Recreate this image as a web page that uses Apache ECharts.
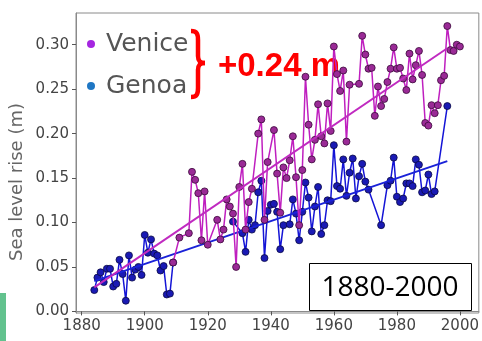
<!DOCTYPE html>
<html lang="en">
<head>
    <meta charset="UTF-8">
    <title>Sea level rise Venice / Genoa</title>
    <script src="https://cdn.jsdelivr.net/npm/echarts@6/dist/echarts.min.js"></script>
    <style>
        html, body { margin: 0; padding: 0; background: #fff; }
    </style>
</head>
<body>
    <div id="chart-container" style="width: 482px; height: 341px;"></div>
    <script>
    // 数据：年份 / 海平面上升 (m)
    var veniceYears = [1909, 1911, 1914, 1915, 1916, 1917, 1918, 1919, 1920, 1923, 1924, 1925, 1926, 1927, 1928, 1929,
        1930, 1931, 1932, 1933, 1934, 1936, 1937, 1938, 1939, 1941, 1942, 1943, 1944, 1945, 1946, 1947, 1948, 1949,
        1950, 1951, 1952, 1953, 1954, 1955, 1956, 1957, 1958, 1959, 1960, 1961, 1962, 1963, 1964, 1965, 1968, 1969,
        1970, 1971, 1972, 1973, 1974, 1975, 1976, 1977, 1978, 1979, 1980, 1981, 1982, 1983, 1984, 1985, 1986, 1987,
        1988, 1989, 1990, 1991, 1992, 1993, 1994, 1995, 1996, 1997, 1998, 1999, 2000];
    var veniceValues = [0.055, 0.083, 0.088, 0.157, 0.148, 0.133, 0.080, 0.135, 0.075, 0.103, 0.081, 0.092, 0.126, 0.118, 0.110, 0.050,
        0.140, 0.166, 0.092, 0.123, 0.138, 0.200, 0.216, 0.103, 0.168, 0.204, 0.155, 0.111, 0.162, 0.150, 0.170, 0.197, 0.151, 0.097,
        0.159, 0.264, 0.210, 0.171, 0.193, 0.233, 0.197, 0.189, 0.234, 0.203, 0.298, 0.267, 0.248, 0.271, 0.191, 0.255, 0.256, 0.310,
        0.289, 0.273, 0.274, 0.220, 0.253, 0.231, 0.239, 0.258, 0.273, 0.297, 0.273, 0.274, 0.262, 0.249, 0.290, 0.261, 0.277, 0.293,
        0.266, 0.212, 0.209, 0.232, 0.223, 0.232, 0.260, 0.265, 0.321, 0.294, 0.293, 0.300, 0.298];

    // '-' = 缺测（断开折线）
    var genoaYears = [1884, 1885, 1886, 1887, 1888, 1889, 1890, 1891, 1892, 1893, 1894, 1895, 1896, 1897, 1898, 1899,
        1900, 1901, 1902, 1903, 1904, 1905, 1906, 1907, 1908, 1909, 1918, 1928, 1931, 1932, 1933, 1934, 1935, 1936, 1937,
        1938, 1939, 1940, 1941, 1942, 1943, 1944, 1946, 1947, 1948, 1949, 1950, 1951, 1952, 1953, 1954, 1955, 1956,
        1957, 1958, 1959, 1960, 1961, 1962, 1963, 1964, 1965, 1966, 1967, 1968, 1969, 1970, 1971, 1975, 1977, 1978,
        1979, 1980, 1981, 1982, 1983, 1984, 1985, 1986, 1987, 1988, 1989, 1990, 1991, 1992, 1996];
    var genoaValues = [0.024, 0.038, 0.044, 0.033, 0.048, 0.048, 0.028, 0.031, 0.058, 0.042, 0.012, 0.063, 0.038, 0.047, 0.050, 0.041,
        0.086, 0.066, 0.081, 0.065, 0.063, 0.046, 0.051, 0.019, 0.020, 0.055, '-', 0.101, 0.088, 0.067, 0.103, 0.092, 0.097, 0.134, 0.147,
        0.060, 0.113, 0.120, 0.121, 0.112, 0.070, 0.097, 0.098, 0.126, 0.110, 0.080, 0.112, 0.145, 0.128, 0.090, 0.118, 0.140, 0.087,
        0.097, 0.125, 0.124, 0.187, 0.141, 0.138, 0.171, 0.130, 0.156, 0.172, 0.127, 0.152, 0.166, 0.146, 0.137, 0.097, 0.142, 0.147,
        0.173, 0.129, 0.123, 0.127, 0.144, 0.144, 0.141, 0.171, 0.165, 0.134, 0.136, 0.154, 0.132, 0.135, 0.231];

    // 趋势线端点
    var trendYears = [1884, 1996];
    var veniceTrend = [0.027, 0.296];
    var genoaTrend = [0.034, 0.169];

    var xTicks = [1880, 1900, 1920, 1940, 1960, 1980, 2000];
    var yTicks = [0, 0.05, 0.10, 0.15, 0.20, 0.25, 0.30];

    function pairs(xs, ys) {
        return xs.map(function (x, i) { return [x, ys[i]]; });
    }

    var chart = echarts.init(document.getElementById('chart-container'));
    var tickFont = 'DejaVu Sans';

    // 红色大括号
    var braceStyle = { fill: 'none', stroke: '#ff0000', lineWidth: 4.5 };
    function curve(x1, y1, cx1, cy1, cx2, cy2, x2, y2) {
        return {
            type: 'bezierCurve',
            shape: { x1: x1, y1: y1, cpx1: cx1, cpy1: cy1, cpx2: cx2, cpy2: cy2, x2: x2, y2: y2 },
            style: braceStyle
        };
    }
    function seg(x1, y1, x2, y2) {
        return { type: 'line', shape: { x1: x1, y1: y1, x2: x2, y2: y2 }, style: braceStyle };
    }
    var brace = {
        type: 'group',
        children: [
            curve(191, 31, 197, 31, 198, 34, 198, 40),
            seg(198, 40, 198, 56),
            curve(198, 56, 198, 61, 200, 63, 205, 63),
            curve(205, 63, 200, 63, 198, 65, 198, 70),
            seg(198, 70, 198, 88),
            curve(198, 88, 198, 94, 197, 97, 191, 97)
        ]
    };

    var option = {
        animation: false,
        grid: {
            left: 76, right: 3, top: 13, bottom: 28,
            show: true, borderColor: '#8a8a8a', borderWidth: 1
        },
        legend: {
            orient: 'vertical',
            left: 82,
            top: 24,
            itemGap: 12,
            itemWidth: 8,
            itemHeight: 8,
            icon: 'circle',
            textStyle: {
                fontFamily: tickFont,
                fontSize: 25,
                color: '#555',
                lineHeight: 30,
                padding: [0, 0, 0, 6]
            },
            data: [
                { name: 'Venice', itemStyle: { color: '#a526e0', borderWidth: 0 } },
                { name: 'Genoa', itemStyle: { color: '#1f77c4', borderWidth: 0 } }
            ]
        },
        xAxis: {
            type: 'value',
            min: 1878.2,
            max: 2006,
            axisLine: { lineStyle: { color: '#8a8a8a' } },
            axisTick: { customValues: xTicks, length: 4, lineStyle: { color: '#555' } },
            axisLabel: {
                customValues: xTicks,
                fontFamily: tickFont, fontSize: 15, color: '#444', margin: 6,
                formatter: function (v) { return String(v); }
            },
            splitLine: { show: false }
        },
        yAxis: {
            type: 'value',
            min: -0.0018,
            max: 0.3357,
            axisLine: { show: true, lineStyle: { color: '#8a8a8a' } },
            axisTick: { show: true, customValues: yTicks, length: 4, lineStyle: { color: '#555' } },
            axisLabel: {
                customValues: yTicks,
                fontFamily: tickFont, fontSize: 15, color: '#444', margin: 7,
                formatter: function (v) { return v.toFixed(2); }
            },
            splitLine: { show: false }
        },
        graphic: [
            {
                type: 'text', x: 17, y: 182, rotation: Math.PI / 2,
                style: {
                    text: 'Sea level rise (m)', fontFamily: tickFont, fontSize: 18, fill: '#666',
                    textAlign: 'center', textVerticalAlign: 'middle'
                }
            },
            brace,
            {
                type: 'text', x: 218, y: 67,
                style: {
                    text: '+0.24 m', fontFamily: 'Liberation Sans', fontWeight: 'bold', fontSize: 33,
                    fill: '#ff0000', textVerticalAlign: 'middle'
                }
            },
            {
                type: 'rect', z: 10,
                shape: { x: 309.5, y: 263.5, width: 162, height: 47 },
                style: { fill: '#fff', stroke: '#000', lineWidth: 1 }
            },
            {
                type: 'text', z: 11, x: 390, y: 288,
                style: {
                    text: '1880-2000', fontFamily: 'Open Sans', fontSize: 28, fill: '#000',
                    textAlign: 'center', textVerticalAlign: 'middle'
                }
            },
            {
                type: 'rect',
                shape: { x: 0, y: 293, width: 6, height: 48 },
                style: { fill: '#62c28e' }
            }
        ],
        series: [
            {
                name: 'Genoa',
                type: 'line',
                z: 2,
                data: pairs(genoaYears, genoaValues),
                symbol: 'circle',
                symbolSize: 7,
                lineStyle: { color: '#1414d6', width: 1.5 },
                itemStyle: { color: '#1a1ab4', borderColor: '#0a0a44', borderWidth: 0.8 }
            },
            {
                name: 'Genoa trend',
                type: 'line',
                z: 3,
                data: pairs(trendYears, genoaTrend),
                symbol: 'none',
                lineStyle: { color: '#1a22d8', width: 2 }
            },
            {
                name: 'Venice',
                type: 'line',
                z: 4,
                data: pairs(veniceYears, veniceValues),
                symbol: 'circle',
                symbolSize: 7,
                lineStyle: { color: '#bf1fbf', width: 1.5 },
                itemStyle: { color: '#9a2a96', borderColor: '#3a0a3a', borderWidth: 0.8 }
            },
            {
                name: 'Venice trend',
                type: 'line',
                z: 5,
                data: pairs(trendYears, veniceTrend),
                symbol: 'none',
                lineStyle: { color: '#c02ac0', width: 2 }
            }
        ]
    };

    chart.setOption(option);
    </script>
</body>
</html>
